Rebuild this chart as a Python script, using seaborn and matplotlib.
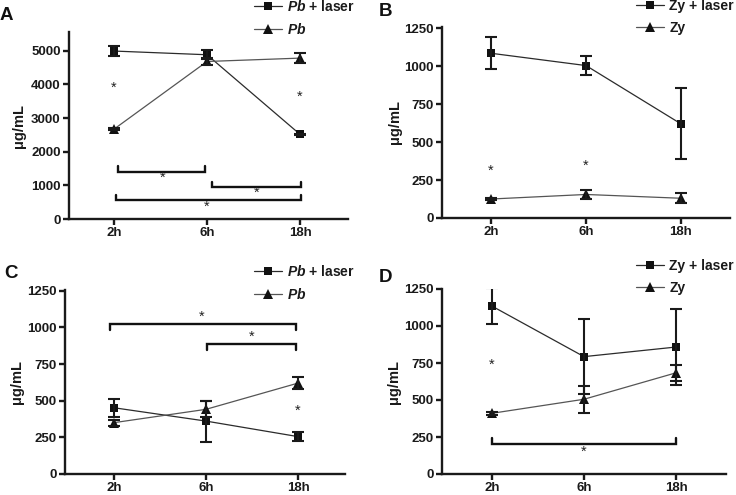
import numpy as np
import pandas as pd
import matplotlib
matplotlib.use('Agg')
import matplotlib.pyplot as plt
import seaborn as sns

sns.set_theme(style='ticks')
plt.rcParams['font.family'] = ['Liberation Sans', 'DejaVu Sans']
plt.rcParams['font.weight'] = 'bold'
plt.rcParams['mathtext.fontset'] = 'custom'
plt.rcParams['mathtext.bfit'] = 'Liberation Sans:italic:bold'
plt.rcParams['mathtext.it'] = 'Liberation Sans:italic:bold'

times = ['2h', '6h', '18h']

# panel A: Pb, high range
a_laser = [4990, 4880, 2515]
a_laser_err = [145, 130, 20]
a_plain = [2670, 4680, 4780]
a_plain_err = [20, 100, 140]

# panel B: Zy, high range
b_laser = [1085, 1004, 620]
b_laser_err = [105, 63, 234]
b_plain = [125, 155, 130]
b_plain_err = [8, 28, 33]

# panel C: Pb, low range
c_laser = [452, 361, 255]
c_laser_err = [60, 140, 33]
c_plain = [350, 441, 620]
c_plain_err = [20, 55, 40]

# panel D: Zy, low range
d_laser = [1135, 793, 858]
d_laser_err = [120, 255, 255]
d_plain = [410, 505, 684]
d_plain_err = [8, 90, 55]

# significance annotations: (x0, x1, y, tick)
a_brackets = [(0.04, 0.98, 1410, 150), (1.05, 2.01, 960, 150), (0.02, 2.01, 565, 150)]
a_stars = [(0.0, 3890), (2.0, 3620), (0.52, 1230), (1.53, 780), (1.0, 360)]
b_brackets = []
b_stars = [(0.0, 310), (1.0, 345)]
c_brackets = [(-0.04, 1.98, 1020, -40), (1.01, 1.98, 886, -40)]
c_stars = [(0.95, 1075), (1.5, 935), (2.0, 430)]
d_brackets = [(0.0, 2.0, 200, 42)]
d_stars = [(0.0, 736), (1.0, 150)]

fig = plt.figure(figsize=(7.36, 4.95), dpi=100)
W, H = 736, 495


def px_axes(left, right, bottom, top):
    return fig.add_axes([left / W, 1 - bottom / H, (right - left) / W, (bottom - top) / H])


def draw_panel(ax, laser, laser_err, plain, plain_err, names, ylim, yticks, xlim,
               brackets, stars, letter, letter_xy, leg_xy, ylab_x):
    x = np.arange(len(times))
    df = pd.DataFrame({'pos': np.concatenate([x, x]),
                       'val': laser + plain,
                       'grp': [names[0]] * 3 + [names[1]] * 3})
    sns.lineplot(data=df[df.grp == names[0]], x='pos', y='val', marker='s', markersize=6,
                 color='#2b2b2b', linewidth=0.9, markeredgewidth=0, ax=ax, label=names[0])
    sns.lineplot(data=df[df.grp == names[1]], x='pos', y='val', marker='^', markersize=7,
                 color='#555555', linewidth=0.9, markeredgewidth=0, ax=ax, label=names[1])
    for lines in ax.get_lines():
        lines.set_markerfacecolor('#111111')
    ax.errorbar(x, laser, yerr=laser_err, fmt='none', ecolor='#1a1a1a', elinewidth=1.5,
                capsize=4, capthick=1.5, zorder=3)
    ax.errorbar(x, plain, yerr=plain_err, fmt='none', ecolor='#1a1a1a', elinewidth=1.5,
                capsize=4, capthick=1.5, zorder=3)
    for x0, x1, y, t in brackets:
        ax.plot([x0, x0, x1, x1], [y + t, y, y, y + t], color='#111111', lw=1.7,
                solid_joinstyle='miter', clip_on=False)
    for sx, sy in stars:
        ax.text(sx, sy, '*', ha='center', va='center', fontsize=10.5, fontweight='normal',
                color='#222222')
    ax.set_xlim(*xlim)
    ax.set_ylim(*ylim)
    ax.set_yticks(yticks)
    ax.set_xticks(x)
    ax.set_xticklabels(times)
    ax.set_xlabel('')
    ax.set_ylabel('')
    fig.text(ylab_x / W, ax.get_position().y0 + ax.get_position().height / 2, 'μg/mL',
             rotation=90, ha='center', va='center', fontsize=10.5, fontweight='bold',
             color='#1a1a1a')
    for side in ['top', 'right']:
        ax.spines[side].set_visible(False)
    for side in ['left', 'bottom']:
        ax.spines[side].set_linewidth(1.7)
        ax.spines[side].set_color('#1a1a1a')
    ax.tick_params(axis='both', length=4.5, width=1.7, color='#1a1a1a', pad=1.5,
                   labelsize=9.5, labelcolor='#1a1a1a')
    for lab in ax.get_xticklabels() + ax.get_yticklabels():
        lab.set_fontweight('bold')
    ax.set_facecolor('none')
    fig.text(letter_xy[0] / W, 1 - letter_xy[1] / H, letter, fontsize=13.5, fontweight='bold',
             ha='left', va='center', color='#111111')
    leg = ax.legend(loc='upper left', bbox_to_anchor=(leg_xy[0] / W, 1 - leg_xy[1] / H),
                    bbox_transform=fig.transFigure, frameon=False, fontsize=10,
                    handlelength=2.0, handletextpad=0.4, labelspacing=0.55,
                    borderpad=0, borderaxespad=0)
    for txt in leg.get_texts():
        txt.set_fontweight('bold')
        txt.set_color('#1a1a1a')


axA = px_axes(69, 348, 219, 32)
draw_panel(axA, a_laser, a_laser_err, a_plain, a_plain_err,
           [r'$\mathit{Pb}$ + laser', r'$\mathit{Pb}$'], (0, 5556),
           [0, 1000, 2000, 3000, 4000, 5000], (-0.484, 2.516),
           a_brackets, a_stars, 'A', (0, 15), (254, -1), 19)

axB = px_axes(442, 730, 218, 27)
draw_panel(axB, b_laser, b_laser_err, b_plain, b_plain_err,
           ['Zy + laser', 'Zy'], (0, 1258), [0, 250, 500, 750, 1000, 1250],
           (-0.516, 2.516), b_brackets, b_stars, 'B', (379, 12), (636, -1), 395)

axC = px_axes(65, 345, 474, 290)
draw_panel(axC, c_laser, c_laser_err, c_plain, c_plain_err,
           [r'$\mathit{Pb}$ + laser', r'$\mathit{Pb}$'], (0, 1255),
           [0, 250, 500, 750, 1000, 1250], (-0.53, 2.51),
           c_brackets, c_stars, 'C', (4, 273), (254, 264), 17)

axD = px_axes(442, 726, 474, 289)
draw_panel(axD, d_laser, d_laser_err, d_plain, d_plain_err,
           ['Zy + laser', 'Zy'], (0, 1250), [0, 250, 500, 750, 1000, 1250],
           (-0.54, 2.54), d_brackets, d_stars, 'D', (379, 277), (636, 259), 394)

fig.savefig('out.png', dpi=100, facecolor='white')
